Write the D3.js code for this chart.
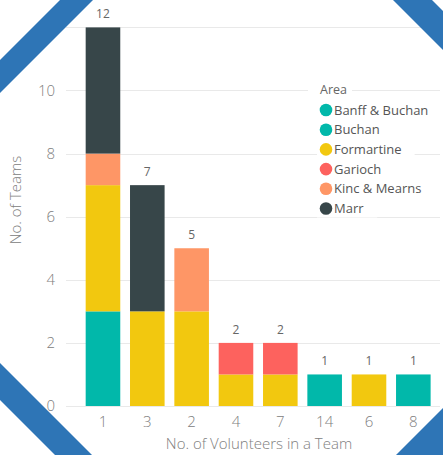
<!DOCTYPE html>
<html>
<head>
<meta charset="utf-8">
<script src="https://cdn.jsdelivr.net/npm/d3@7"></script>
<style>
  html, body { margin: 0; padding: 0; background: #fff; }
  svg { display: block; font-family: "Segoe UI", "Open Sans", sans-serif; }
</style>
</head>
<body>
<div id="chart"></div>
<script>
// team sizes (x axis order as shown)
const teamSizes = ['1', '3', '2', '4', '7', '14', '6', '8'];
const areas = ['Banff & Buchan', 'Buchan', 'Formartine', 'Garioch', 'Kinc & Mearns', 'Marr'];
const areaColors = ['#01B8AA', '#01B8AA', '#F2C80F', '#FD625E', '#FE9666', '#374649'];

// number of teams per area, one value per team size
const banffBuchan = [3, 0, 0, 0, 0, 0, 0, 1];
const buchan      = [0, 0, 0, 0, 0, 1, 0, 0];
const formartine  = [4, 3, 3, 1, 1, 0, 1, 0];
const garioch     = [0, 0, 0, 1, 1, 0, 0, 0];
const kincMearns  = [1, 0, 2, 0, 0, 0, 0, 0];
const marr        = [4, 4, 0, 0, 0, 0, 0, 0];

const yTicks = [0, 2, 4, 6, 8, 10, 12];

const config_size = {
  svg_width: 443,
  svg_height: 455,
};

const svg = d3.select('#chart').append('svg')
  .attr('width', config_size.svg_width)
  .attr('height', config_size.svg_height);

// build rows for the stack
const series = [banffBuchan, buchan, formartine, garioch, kincMearns, marr];
const rows = teamSizes.map((t, i) => {
  const row = { size: t };
  areas.forEach((a, j) => { row[a] = series[j][i]; });
  return row;
});
const stacked = d3.stack().keys(areas)(rows);
const totals = rows.map(r => d3.sum(areas, a => r[a]));

const x = d3.scaleBand()
  .domain(teamSizes)
  .range([80.8, 435.5])
  .paddingInner(0.22)
  .paddingOuter(0.11);

const y = d3.scaleLinear()
  .domain([0, 12])
  .range([406, 27.4]);

const color = d3.scaleOrdinal().domain(areas).range(areaColors);

// gridlines
svg.append('g').selectAll('line')
  .data(yTicks)
  .join('line')
  .attr('x1', 66)
  .attr('x2', 440)
  .attr('y1', d => Math.round(y(d)) + 0.5)
  .attr('y2', d => Math.round(y(d)) + 0.5)
  .attr('stroke', '#e9e9e9')
  .attr('stroke-width', 1);

// y tick labels
svg.append('g').selectAll('text')
  .data(yTicks)
  .join('text')
  .attr('x', 55)
  .attr('y', d => y(d))
  .attr('dy', '0.35em')
  .attr('text-anchor', 'end')
  .attr('fill', '#808080')
  .style('font-size', '15px')
  .style('font-weight', 300)
  .text(d => d);

// stacked bars
svg.append('g').selectAll('g')
  .data(stacked)
  .join('g')
  .attr('fill', d => color(d.key))
  .selectAll('rect')
  .data(d => d)
  .join('rect')
  .attr('x', d => x(d.data.size))
  .attr('y', d => y(d[1]))
  .attr('width', x.bandwidth())
  .attr('height', d => y(d[0]) - y(d[1]));

// total labels
svg.append('g').selectAll('text')
  .data(teamSizes)
  .join('text')
  .attr('x', d => x(d) + x.bandwidth() / 2)
  .attr('y', (d, i) => y(totals[i]) - 9)
  .attr('text-anchor', 'middle')
  .attr('fill', '#666')
  .style('font-size', '12px')
  .text((d, i) => totals[i]);

// x tick labels
svg.append('g').selectAll('text')
  .data(teamSizes)
  .join('text')
  .attr('x', d => x(d) + x.bandwidth() / 2)
  .attr('y', 427)
  .attr('text-anchor', 'middle')
  .attr('fill', '#808080')
  .style('font-size', '15px')
  .style('font-weight', 300)
  .text(d => d);

// axis titles
svg.append('text')
  .attr('x', 259)
  .attr('y', 449)
  .attr('text-anchor', 'middle')
  .attr('fill', '#808080')
  .style('font-size', '15px')
  .style('font-weight', 300)
  .text('No. of Volunteers in a Team');

svg.append('text')
  .attr('transform', 'translate(21, 200) rotate(-90)')
  .attr('text-anchor', 'middle')
  .attr('fill', '#808080')
  .style('font-size', '15px')
  .style('font-weight', 300)
  .text('No. of Teams');

// legend
const legend = svg.append('g');
const areaTitle = legend.append('text')
  .attr('x', 320)
  .attr('y', 90)
  .attr('dy', '0.35em')
  .attr('fill', '#666')
  .style('font-size', '12.5px')
  .text('Area');
const tb = areaTitle.node().getBBox();
legend.insert('rect', 'text')
  .attr('x', 308).attr('y', 81)
  .attr('width', tb.x + tb.width + 5 - 308).attr('height', 18)
  .attr('fill', '#fff');

const item = legend.selectAll('g.item')
  .data(areas)
  .join('g')
  .attr('class', 'item')
  .attr('transform', (d, i) => `translate(0, ${110 + i * 19.7})`);

const bg = item.append('rect').attr('fill', '#fff');
item.append('circle')
  .attr('cx', 326)
  .attr('cy', 0)
  .attr('r', 6.3)
  .attr('fill', d => color(d));
item.append('text')
  .attr('x', 334)
  .attr('y', 0)
  .attr('dy', '0.35em')
  .attr('fill', '#555')
  .style('font-size', '13px')
  .text(d => d);
item.each(function() {
  const g = d3.select(this);
  const b = g.select('text').node().getBBox();
  g.select('rect')
    .attr('x', 317).attr('y', -9)
    .attr('width', b.x + b.width + 13 - 317).attr('height', 18);
});

// blue corner stripes
const blue = '#2E75B6';
const W = config_size.svg_width, H = config_size.svg_height;
svg.append('polygon')
  .attr('points', `60,0 93,0 0,93 0,60`).attr('fill', blue);
svg.append('polygon')
  .attr('points', `393,0 432,0 ${W},${W - 432} ${W},${W - 393}`).attr('fill', blue);
svg.append('polygon')
  .attr('points', `0,363 0,400 55,${H} 92,${H}`).attr('fill', blue);
svg.append('polygon')
  .attr('points', `${851 - H},${H} ${W},${851 - W} ${W},${H}`).attr('fill', blue);
</script>
</body>
</html>
